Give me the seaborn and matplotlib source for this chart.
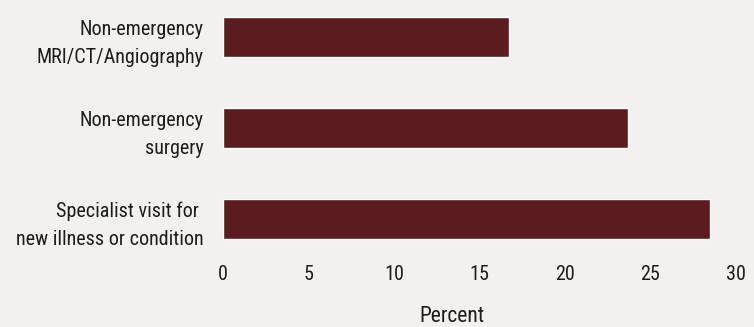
import pandas as pd
import seaborn as sns
import matplotlib.pyplot as plt

categories = ["Non-emergency\nMRI/CT/Angiography",
              "Non-emergency\nsurgery",
              "Specialist visit for \nnew illness or condition"]
percent = [16.7, 23.7, 28.5]
xticks = [0, 5, 10, 15, 20, 25, 30]

bg = "#f2f1ef"
bar_color = "#5a1c1e"
text_color = "#1c1c1c"

sns.set_style("white", {"axes.facecolor": bg, "figure.facecolor": bg})
plt.rcParams["font.family"] = ["Roboto Condensed", "DejaVu Sans"]
plt.rcParams["font.stretch"] = "condensed"

df = pd.DataFrame({"category": categories, "percent": percent})

fig = plt.figure(figsize=(7.54, 3.27), dpi=100)
ax = fig.add_axes([223 / 754, 1 - 250 / 327, 513 / 754, 250 / 327])
sns.barplot(data=df, x="percent", y="category", orient="h", color=bar_color,
            width=0.44, edgecolor="white", linewidth=1, saturation=1, ax=ax)

ax.set_xlim(0, 30)
ax.set_ylim(2.34, -0.41)
ax.set_xticks(xticks)
ax.tick_params(axis="both", length=0, colors=text_color, labelsize=14.5)
ax.tick_params(axis="x", pad=11)
ax.tick_params(axis="y", pad=14)
for lab in ax.get_yticklabels():
    lab.set_linespacing(1.6)
ax.set_ylabel("")
ax.set_xlabel("Percent", fontsize=15.5, color=text_color)
ax.xaxis.set_label_coords((452 - 223) / 513, -0.225)
sns.despine(ax=ax, left=True, bottom=True)

fig.savefig("out.png", dpi=100, facecolor=bg)
